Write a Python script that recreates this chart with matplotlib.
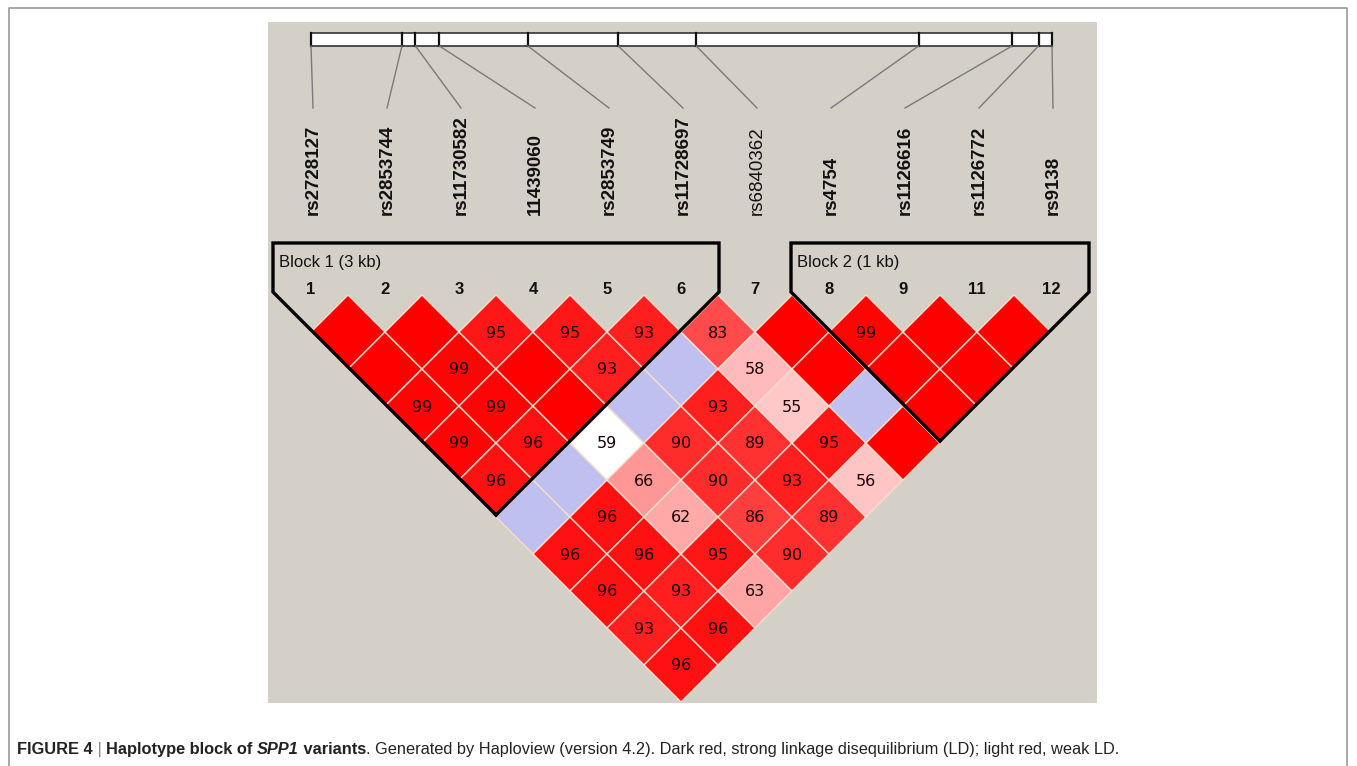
import matplotlib
matplotlib.use("Agg")
import matplotlib.pyplot as plt
from matplotlib.patches import Polygon, Rectangle

# markers of the SPP1 haplotype plot
marker_names = ["rs2728127", "rs2853744", "rs11730582", "11439060", "rs2853749",
                "rs11728697", "rs6840362", "rs4754", "rs1126616", "rs1126772", "rs9138"]
marker_nums = ["1", "2", "3", "4", "5", "6", "7", "8", "9", "11", "12"]
marker_bold = [True, True, True, True, True, True, False, True, True, True, True]
pos_kb = [0.0, 0.91, 1.045, 1.285, 2.17, 3.075, 3.855, 6.08, 7.015, 7.28, 7.415]

# D' (x100) per pair, row i = marker i against markers i+1 ... 11
dprime = [
    [100, 100, 99, 99, 96, 100, 96, 96, 93, 96],
    [100, 99, 99, 96, 100, 96, 96, 93, 96],
    [95, 100, 100, 59, 66, 62, 95, 63],
    [95, 93, 100, 90, 90, 86, 90],
    [93, 100, 93, 89, 93, 89],
    [83, 58, 55, 95, 56],
    [100, 100, 100, 100],
    [99, 100, 100],
    [100, 100],
    [100],
]
# pairs with LOD < 2
low_lod = [(0, 6), (1, 6), (3, 6), (4, 6), (6, 9), (2, 6)]

blocks = [(0, 5, "Block 1 (3 kb)"), (7, 10, "Block 2 (1 kb)")]

caption = [
    ("FIGURE 4", "bold", "normal", "#222222"),
    (" | ", "normal", "normal", "#888888"),
    ("Haplotype block of ", "bold", "normal", "#222222"),
    ("SPP1", "bold", "italic", "#222222"),
    (" variants", "bold", "normal", "#222222"),
    (". Generated by Haploview (version 4.2). Dark red, strong linkage disequilibrium (LD); light red, weak LD.",
     "normal", "normal", "#222222"),
]

W, H = 1357, 766
fig = plt.figure(figsize=(W / 100, H / 100), dpi=100)
ax = fig.add_axes([0, 0, 1, 1])
ax.set_xlim(0, W)
ax.set_ylim(H, 0)
ax.axis("off")

# page frame and grey haploview panel
ax.plot([9, 9, 1347, 1347], [H + 5, 8, 8, H + 5], color="#9a9a9a", lw=1.2)
ax.add_patch(Rectangle((268, 22), 829, 681, facecolor="#d4d0c8", edgecolor="none"))

x0, step = 311, 74
half = step / 2
y_row1 = 332
n = len(marker_names)
mx = [x0 + step * i for i in range(n)]


def cell_color(d, low):
    if low:
        return (192/255, 192/255, 240/255) if d >= 100 else (1, 1, 1)
    v = max(0, int(223 * 2 * (1 - d / 100)))
    return (1, v / 255, v / 255)


for i, row in enumerate(dprime):
    for k, d in enumerate(row):
        j = i + 1 + k
        cx = (mx[i] + mx[j]) / 2
        cy = y_row1 + half * (j - i - 1)
        poly = Polygon([(cx, cy - half), (cx + half, cy), (cx, cy + half), (cx - half, cy)],
                       closed=True, facecolor=cell_color(d, (i, j) in low_lod),
                       edgecolor="#f6dccb", lw=1.0)
        ax.add_patch(poly)
        if d < 100:
            ax.text(cx, cy + 1, str(d), ha="center", va="center", fontsize=11.5,
                    family="DejaVu Sans", color="#1a0000")

# block outlines
for b0, b1, label in blocks:
    xl, xr = mx[b0] - 38, mx[b1] + 38
    yt, ys = 243, 292
    xb = (xl + xr) / 2
    yb = ys + (xr - xl) / 2
    ax.plot([xb, xl, xl, xr, xr, xb], [yb, ys, yt, yt, ys, yb], color="black", lw=2.4,
            solid_joinstyle="miter")
    ax.text(xl + 6, 263, label, ha="left", va="center", fontsize=12,
            family="Liberation Sans", color="#111111")

for x, s in zip(mx, marker_nums):
    ax.text(x, 289, s, ha="center", va="center", fontsize=12, fontweight="bold",
            family="Liberation Sans", color="#111111")

# physical ruler on top
rx0, rx1 = 311, 1052
span = pos_kb[-1] - pos_kb[0]
px = [rx0 + (p - pos_kb[0]) / span * (rx1 - rx0) for p in pos_kb]
ax.add_patch(Rectangle((rx0, 33), rx1 - rx0, 13, facecolor="white", edgecolor="#333333", lw=1.2))
for p, x in zip(px, mx):
    ax.plot([p, p], [33, 46], color="#111111", lw=1.6)
    ax.plot([p, x + 2], [46, 108], color="#7a7a7a", lw=1.0)

for x, name, bold in zip(mx, marker_names, marker_bold):
    ax.text(x + 2, 215, name, rotation=90, ha="center", va="bottom", fontsize=13.5,
            fontweight="bold" if bold else "normal", family="Liberation Sans",
            color="#111111")

# caption, drawn piece by piece on one baseline
fam = ["Liberation Sans Narrow", "Liberation Sans"]
renderer = fig.canvas.get_renderer()


def draw_caption(size):
    arts = []
    x = 17
    for txt, wt, st, col in caption:
        t = ax.text(x, 754, txt, ha="left", va="baseline", fontsize=size, fontweight=wt,
                    fontstyle=st, color=col, family=fam)
        bb = t.get_window_extent(renderer)
        x += bb.width
        arts.append(t)
    return arts, x - 17


arts, width = draw_caption(12)
for a in arts:
    a.remove()
draw_caption(12 * 1099 / width)

fig.savefig("out.png", dpi=100)
